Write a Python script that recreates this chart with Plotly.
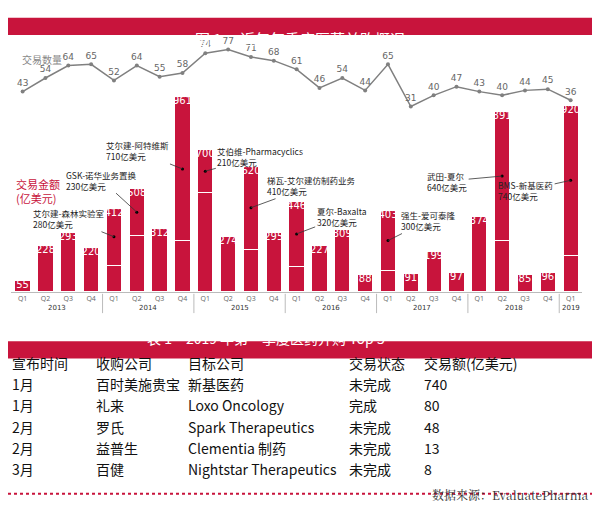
import plotly.graph_objects as go

## 季度/年份
quarters = ["Q1", "Q2", "Q3", "Q4"] * 6 + ["Q1"]
years = ["2013", "2014", "2015", "2016", "2017", "2018", "2019"]
## 交易金额(亿美元), 交易数量
deal_value = [55, 228, 293, 220, 412, 508, 312, 961, 700, 274, 620, 295,
              446, 227, 309, 88, 403, 91, 199, 97, 374, 891, 85, 96, 920]
deal_count = [43, 54, 64, 65, 52, 64, 55, 58, 74, 77, 71, 68, 61, 46, 54, 44,
              65, 31, 40, 47, 43, 40, 44, 45, 36]
## 重大交易 (季度索引, 名称, 金额)
big_idx = [4, 5, 7, 8, 10, 12, 16, 21, 24]
big_name = ["艾尔建-森林实验室", "GSK-诺华业务置换", "艾尔建-阿特维斯", "艾伯维-Pharmacyclics",
            "梯瓦-艾尔建仿制药业务", "夏尔-Baxalta", "强生-爱可泰隆", "武田-夏尔", "BMS-新基医药"]
big_amt = [280, 230, 710, 210, 410, 320, 300, 640, 740]

## 表格数据
tbl_header = ["宣布时间", "收购公司", "目标公司", "交易状态", "交易额(亿美元)"]
tbl_month = ["1月", "1月", "2月", "2月", "3月"]
tbl_buyer = ["百时美施贵宝", "礼来", "罗氏", "益普生", "百健"]
tbl_target = ["新基医药", "Loxo Oncology", "Spark Therapeutics", "Clementia 制药", "Nightstar Therapeutics"]
tbl_status = ["未完成", "完成", "未完成", "未完成", "未完成"]
tbl_amount = ["740", "80", "48", "13", "8"]

RED = "#c8143c"
W, H = 600, 523          # 参考图坐标
FW, FH = 584, 505        # 实际图尺寸(避免滚动条)
FONT = "Noto Sans CJK SC"
px = lambda x: x / W
py = lambda y: 1 - y / H

x = list(range(len(deal_value)))
deal = [0] * len(x)
for i, a in zip(big_idx, big_amt):
    deal[i] = a
lower = [v - d for v, d in zip(deal_value, deal)]

fig = go.Figure()
fig.add_bar(x=x, y=lower, marker=dict(color=RED, line=dict(color="white", width=1)), hoverinfo="skip")
fig.add_bar(x=x, y=deal, marker=dict(color=RED, line=dict(color="white", width=1)), hoverinfo="skip")
fig.add_scatter(x=x, y=deal_value, mode="text", text=[str(v) for v in deal_value],
                textposition="bottom center", textfont=dict(color="white", size=10, family="DejaVu Sans"),
                cliponaxis=False)
fig.add_scatter(x=x, y=deal_count, yaxis="y2", mode="lines+markers+text",
                line=dict(color="#808080", width=1.5), marker=dict(color="#808080", size=4),
                text=[str(v) for v in deal_count], textposition="top center",
                textfont=dict(color="#666", size=9, family="DejaVu Sans"), cliponaxis=False)
# 重大交易圆点
dot_y = [deal_value[i] - big_amt[k] / 2 for k, i in enumerate(big_idx)]
fig.add_scatter(x=big_idx, y=dot_y, mode="markers", marker=dict(color="black", size=3))

offsets = [(-45, -18), (-35, -32), (-45, -18), (55, -15), (60, -22), (45, -17), (40, -20), (-55, 5), (-45, 10)]
for k, i in enumerate(big_idx):
    ax, ay = offsets[k]
    fig.add_annotation(x=i, y=dot_y[k], ax=ax, ay=ay, showarrow=True, arrowhead=0, arrowwidth=0.8,
                       arrowcolor="#333", text=big_name[k] + "<br>" + str(big_amt[k]) + "亿美元",
                       align="left", font=dict(size=8.5, color="#222", family=FONT))

fig.update_layout(
    width=FW, height=FH, margin=dict(l=0, r=0, t=0, b=0), showlegend=False,
    barmode="stack", bargap=0.33, plot_bgcolor="rgba(0,0,0,0)", paper_bgcolor="white",
    xaxis=dict(domain=[0.0055, 0.983], range=[-0.5, 24.5], tickvals=x, ticktext=quarters,
               tickfont=dict(size=7, color="#666"), showgrid=False, zeroline=False,
               showline=True, linecolor="#bbb", ticks=""),
    yaxis=dict(domain=[py(294), py(35)], range=[0, 1233], visible=False),
    yaxis2=dict(domain=[py(294), py(35)], range=[-118.6, 83.2], overlaying="y", visible=False),
)

# 年份与分隔线
year_pos = [1.5, 5.5, 9.5, 13.5, 17.5, 21.5, 24]
for yr, p in zip(years, year_pos):
    fig.add_annotation(x=p, y=py(311), yref="paper", text=yr, showarrow=False,
                       font=dict(size=7, color="#333", family="DejaVu Sans"))
for s in [3.5, 7.5, 11.5, 15.5, 19.5, 23.5]:
    fig.add_shape(type="line", x0=s, x1=s, y0=py(296), y1=py(316), yref="paper",
                  line=dict(color="#bbb", width=1))

# 标题栏
for y0, y1 in [(10, 28), (345, 363)]:
    fig.add_shape(type="rect", xref="paper", yref="paper", x0=0, x1=1, y0=py(y1), y1=py(y0),
                  fillcolor=RED, line_width=0, layer="below")
fig.add_annotation(xref="paper", yref="paper", x=0.5, y=py(19), text="图 1　 近年每季度医药并购概况",
                   showarrow=False, font=dict(size=15, color="white", family=FONT))
fig.add_annotation(xref="paper", yref="paper", x=px(265), y=py(354), text="表 1　2019 年第一季度医药并购 Top 5",
                   showarrow=False, font=dict(size=14, color="white", family=FONT))
fig.add_annotation(xref="paper", yref="paper", x=px(12), y=py(43), xanchor="left", text="交易数量",
                   showarrow=False, font=dict(size=10, color="#888", family=FONT))
fig.add_annotation(xref="paper", yref="paper", x=px(6), y=py(190), xanchor="left", text="交易金额<br>(亿美元)",
                   showarrow=False, align="left", font=dict(size=11, color=RED, family=FONT))

# 表格
cols = [tbl_month, tbl_buyer, tbl_target, tbl_status, tbl_amount]
col_x = [2, 88, 183, 348, 425]
for c, cx in enumerate(col_x):
    cells = [tbl_header[c]] + cols[c]
    for r, t in enumerate(cells):
        fig.add_annotation(xref="paper", yref="paper", x=px(cx), y=py(380 + r * 22), xanchor="left",
                           text=t, showarrow=False, font=dict(size=14, color="#111", family=FONT))
fig.add_shape(type="line", xref="paper", yref="paper", x0=0, x1=1, y0=py(503), y1=py(503),
              line=dict(color=RED, width=2, dash="dot"))
fig.add_annotation(xref="paper", yref="paper", x=px(598), y=py(515), xanchor="right",
                   text="数据来源：EvaluatePharma", showarrow=False,
                   font=dict(size=12, color="#333", family="Noto Serif CJK SC, Liberation Serif, serif"))

fig.write_html("out.html")
